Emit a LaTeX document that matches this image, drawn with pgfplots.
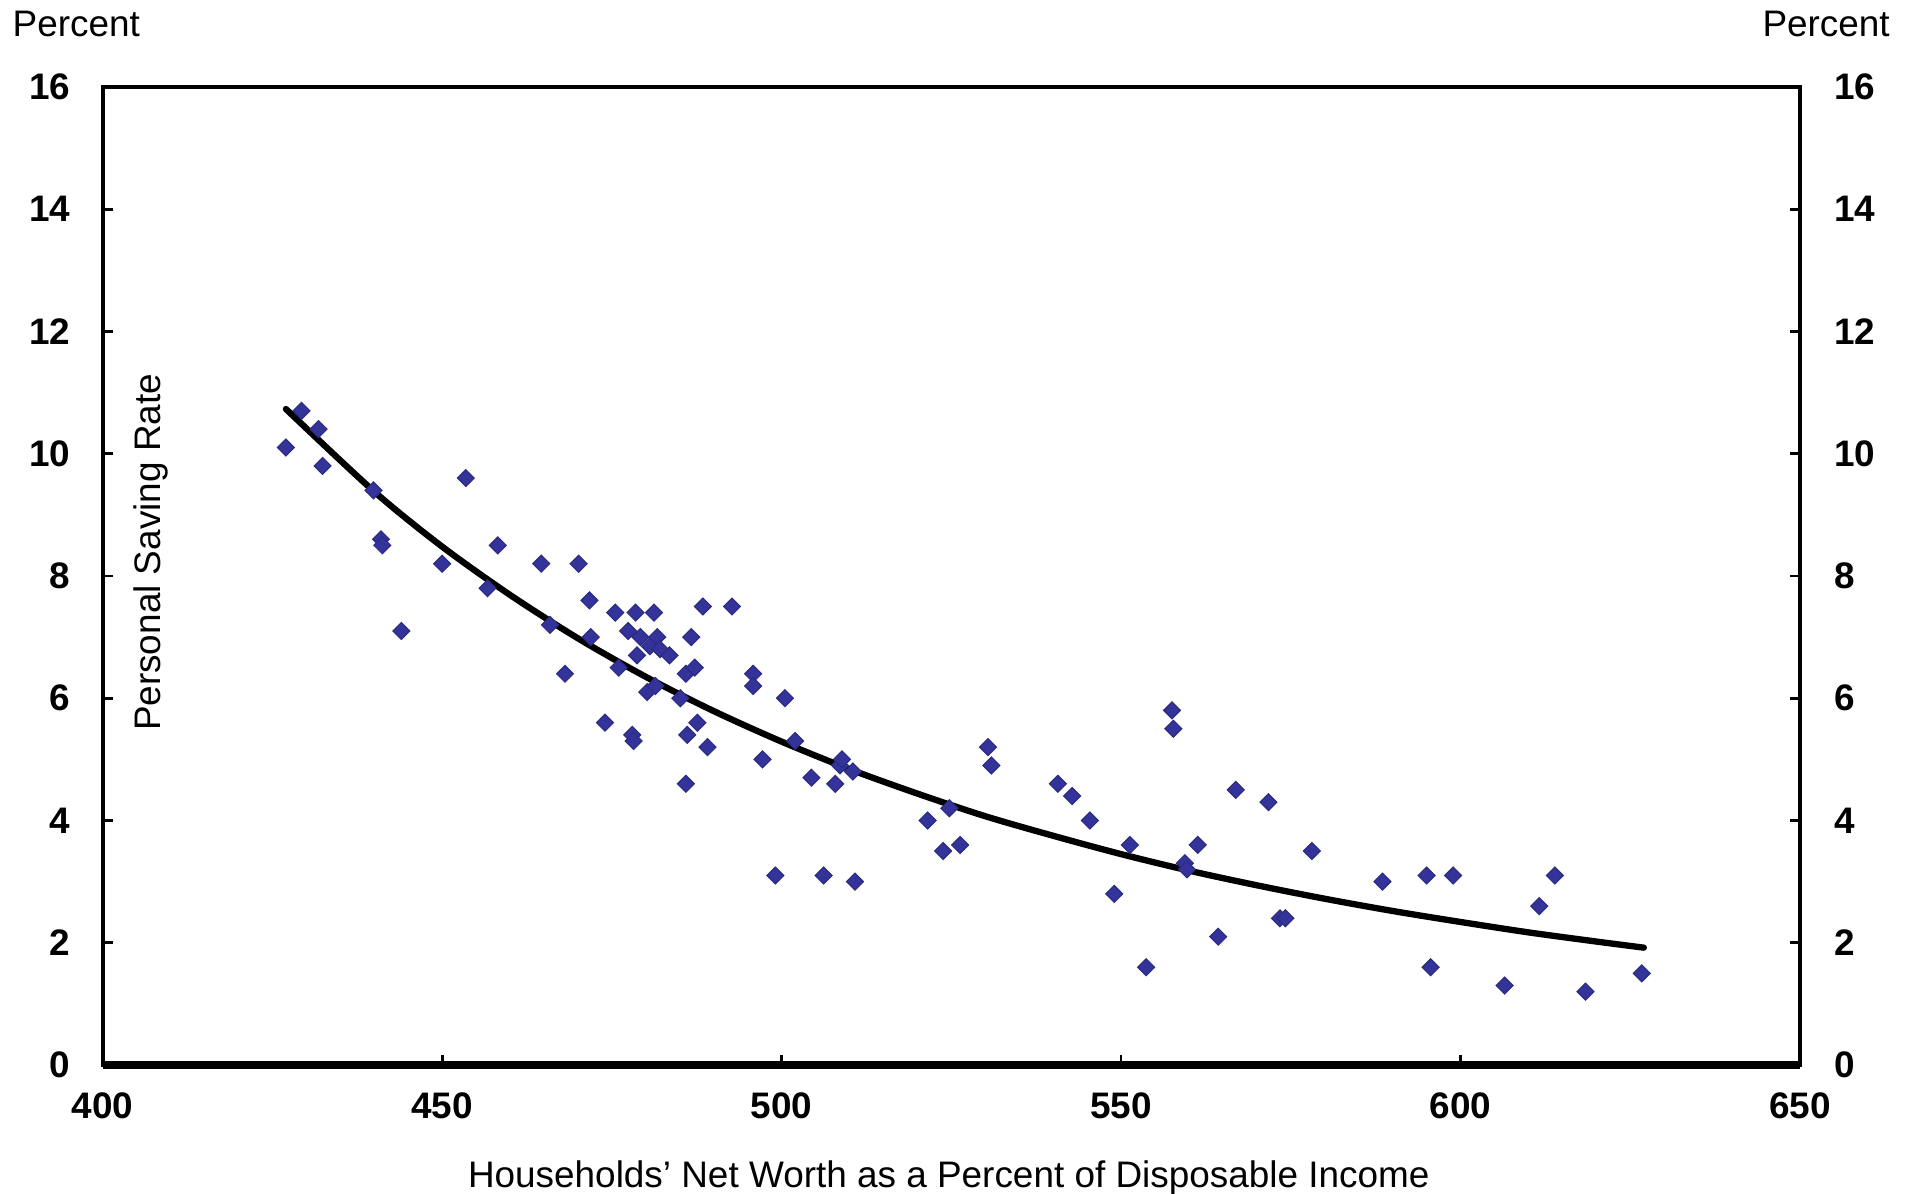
\documentclass[border=0pt]{standalone}
\usepackage{fontspec}
\setmainfont{Liberation Sans}
\usepackage{pgfplots}
\pgfplotsset{compat=1.18}
\usepackage{pgfplotstable}

\definecolor{dotblue}{HTML}{333399}

% net worth (% of disposable income) vs personal saving rate (%)
\pgfplotstableread{
x y
427.0 10.1
429.3 10.7
431.8 10.4
432.4 9.8
439.9 9.4
441.0 8.6
441.2 8.5
444.0 7.1
450.0 8.2
453.5 9.6
456.7 7.8
458.2 8.5
464.6 8.2
465.9 7.2
468.1 6.4
470.1 8.2
471.7 7.6
471.9 7.0
474.0 5.6
475.5 7.4
476.0 6.5
477.4 7.1
478.0 5.4
478.2 5.3
478.5 7.4
478.7 6.7
479.2 7.0
480.2 6.1
480.6 6.85
481.2 7.4
481.4 6.2
481.7 7.0
482.1 6.8
483.5 6.7
485.1 6.0
485.9 6.4
485.9 4.6
486.1 5.4
486.7 7.0
487.2 6.5
487.6 5.6
488.4 7.5
489.1 5.2
492.7 7.5
495.8 6.4
495.8 6.2
497.2 5.0
499.1 3.1
500.5 6.0
502.0 5.3
504.4 4.7
506.2 3.1
507.9 4.6
508.6 4.9
508.9 5.0
510.5 4.8
510.8 3.0
521.5 4.0
523.8 3.5
524.7 4.2
526.3 3.6
530.4 5.2
530.9 4.9
540.7 4.6
542.8 4.4
545.4 4.0
549.0 2.8
551.3 3.6
553.7 1.6
557.5 5.8
557.7 5.5
559.4 3.3
559.7 3.2
561.3 3.6
564.3 2.1
566.9 4.5
571.7 4.3
573.4 2.4
574.2 2.4
578.1 3.5
588.5 3.0
595.0 3.1
595.6 1.6
598.9 3.1
606.5 1.3
611.6 2.6
613.9 3.1
618.4 1.2
626.7 1.5
}\scatterdata

% fitted curve
\pgfplotstableread{
x y
427 10.73
440 9.38
450 8.48
460 7.69
470 6.98
480 6.35
490 5.79
500 5.29
510 4.84
520 4.44
530 4.07
540 3.75
550 3.45
560 3.18
570 2.94
580 2.72
590 2.52
600 2.34
610 2.17
620 2.02
627 1.92
}\fitdata

\begin{document}
\begin{tikzpicture}[font=\fontsize{10.5}{12.6}\selectfont]
\useasboundingbox (-1.026cm,-1.285cm) rectangle (18.13cm,10.648cm);
\begin{axis}[
  at={(0,0)}, anchor=south west,
  scale only axis, width=16.97cm, height=9.78cm,
  xmin=400, xmax=650, ymin=0, ymax=16,
  xtick={400,450,...,650}, ytick={0,2,...,16},
  tick align=inside, major tick length=0.1cm,
  xtick pos=bottom, ytick pos=both, yticklabel pos=left,
  tick style={black, line width=0.8pt},
  axis line style={line width=1.1pt},
  ticklabel style={font=\fontsize{10.5}{12.6}\selectfont\bfseries},
  /pgf/number format/assume math mode=true,
  /pgf/number format/1000 sep={},
  xticklabel style={yshift=-0.15cm},
  yticklabel style={xshift=-0.2cm},
  clip=false,
]
\addplot[only marks, mark=square*, mark size=0.6mm,
  mark options={rotate=45, fill=dotblue, draw=dotblue!85!black, line width=0.3pt}]
  table[x=x, y=y] {\scatterdata};
\addplot[black, line width=1.8pt, line cap=round, line join=round, smooth]
  table[x=x, y=y] {\fitdata};
\draw[line width=2.2pt] (axis cs:400,0) -- (axis cs:650,0);
\end{axis}
\begin{axis}[
  at={(0,0)}, anchor=south west,
  scale only axis, width=16.97cm, height=9.78cm,
  xmin=400, xmax=650, ymin=0, ymax=16,
  hide x axis, axis y line*=right, y axis line style={draw=none},
  ytick={0,2,...,16}, major tick length=0pt,
  yticklabel pos=right,
  ticklabel style={font=\fontsize{10.5}{12.6}\selectfont\bfseries},
  /pgf/number format/assume math mode=true,
  yticklabel style={xshift=0.22cm},
]
\end{axis}
\node[anchor=base west, inner sep=0] at (-0.906cm,10.285cm) {Percent};
\node[anchor=base east, inner sep=0] at (17.874cm,10.285cm) {Percent};
\node[anchor=base, inner sep=0] at (8.46cm,-1.225cm) {Households’ Net Worth as a Percent of Disposable Income};
\node[rotate=90, inner sep=0] at (0.484cm,5.125cm) {Personal Saving Rate};
\end{tikzpicture}
\end{document}
